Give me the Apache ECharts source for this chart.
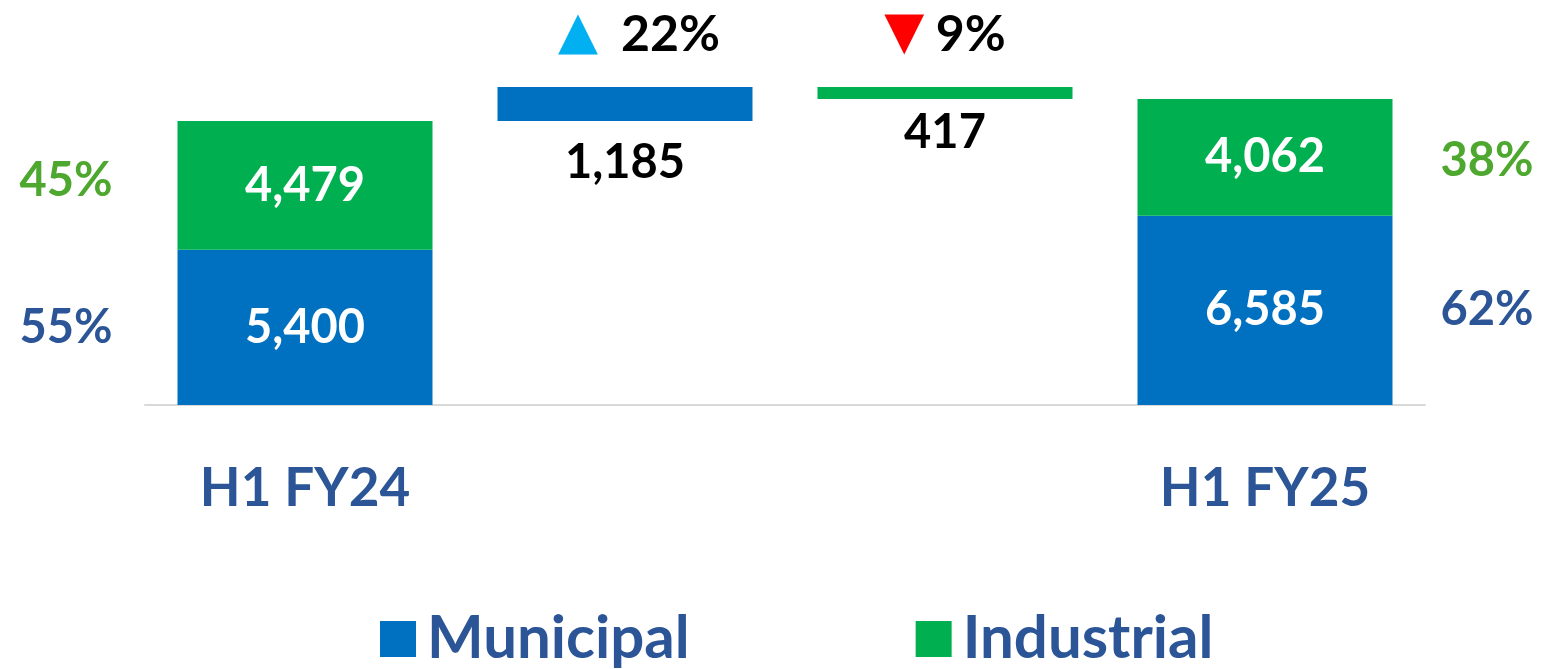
<!DOCTYPE html>
<html>
<head>
<meta charset="utf-8">
<script src="https://cdn.jsdelivr.net/npm/echarts@6/dist/echarts.min.js"></script>
<style>
  html, body { margin: 0; padding: 0; background: #fff; }
  #chart { width: 1542px; height: 669px; }
</style>
</head>
<body>
<div id="chart"></div>
<script>
// data
var categories = ['H1 FY24', 'Municipal change', 'Industrial change', 'H1 FY25'];
var municipalValues = [5400, 6585];   // H1 FY24, H1 FY25
var industrialValues = [4479, 4062];  // H1 FY24, H1 FY25

var BLUE = '#0070C0', GREEN = '#00B050', NAVY = '#2B5597', OLIVE = '#4EA72E';
var FONT = 'Lato';

function fmt(v) { return Math.abs(v).toLocaleString('en-US'); }
function pct(v) { return Math.round(v * 100) + '%'; }

var total24 = municipalValues[0] + industrialValues[0];
var munChange = municipalValues[1] - municipalValues[0];
var indChange = industrialValues[1] - industrialValues[0];

var helper = [null, total24, total24 + munChange + indChange, null];
var municipal = [municipalValues[0], munChange, null, municipalValues[1]];
var industrial = [industrialValues[0], null, -indChange, industrialValues[1]];

var bigLabel = { fontFamily: FONT, fontWeight: 'bold', fontSize: 47 };

var chart = echarts.init(document.getElementById('chart'));

var option = {
  animation: false,
  grid: { left: 145, right: 117, top: 60, bottom: 264 },
  legend: {
    data: ['Municipal', 'Industrial'],
    left: 375,
    top: 604,
    itemWidth: 36,
    itemHeight: 36,
    itemGap: 226,
    icon: 'rect',
    textStyle: { color: NAVY, fontFamily: FONT, fontWeight: 'bold', fontSize: 60, padding: [0, 0, 0, 6] }
  },
  xAxis: {
    type: 'category',
    data: categories,
    axisLine: { lineStyle: { color: '#D9D9D9', width: 2 } },
    axisTick: { show: false },
    axisLabel: {
      margin: 57,
      color: NAVY,
      fontFamily: FONT,
      fontWeight: 'bold',
      fontSize: 53,
      interval: 0,
      formatter: function (v, i) { return (i === 0 || i === 3) ? v : ''; }
    }
  },
  yAxis: { type: 'value', min: 0, max: 12000, show: false },
  series: [
    {
      name: 'helper',
      type: 'bar',
      stack: 'main',
      barWidth: 255,
      barGap: '-100%',
      itemStyle: { color: 'transparent' },
      label: {
        show: true,
        position: 'insideTop',
        color: '#000',
        fontFamily: FONT, fontWeight: 'bold', fontSize: 47,
        formatter: function (p) {
          if (p.dataIndex === 1) return fmt(munChange);
          if (p.dataIndex === 2) return fmt(indChange);
          return '';
        }
      },
      data: helper.map(function (v, i) {
        return { value: v, label: { distance: i === 1 ? 18 : 10 } };
      })
    },
    {
      name: 'Municipal',
      type: 'bar',
      stack: 'main',
      barWidth: 255,
      itemStyle: { color: BLUE },
      label: Object.assign({ show: true, position: 'inside', color: '#fff', formatter: function (p) { return fmt(p.value); } }, bigLabel),
      data: municipal.map(function (v, i) {
        if (i !== 1) return v;
        return {
          value: v,
          label: {
            position: 'top',
            distance: 26,
            offset: [14, 0],
            formatter: '{up|▲}  {t|' + pct(munChange / municipalValues[0]) + '}',
            rich: {
              up: { color: '#00B0F0', fontFamily: 'DejaVu Sans', fontSize: 52 },
              t: { color: '#000', fontFamily: FONT, fontWeight: 'bold', fontSize: 50 }
            }
          }
        };
      })
    },
    {
      name: 'Industrial',
      type: 'bar',
      stack: 'main',
      barWidth: 255,
      itemStyle: { color: GREEN },
      label: Object.assign({ show: true, position: 'inside', color: '#fff', formatter: function (p) { return fmt(p.value); } }, bigLabel),
      data: industrial.map(function (v, i) {
        if (i !== 2) return v;
        return {
          value: v,
          label: {
            position: 'top',
            distance: 26,
            offset: [0, 0],
            formatter: '{dn|▼} {t|' + pct(-indChange / industrialValues[0]) + '}',
            rich: {
              dn: { color: '#FF0000', fontFamily: 'DejaVu Sans', fontSize: 52 },
              t: { color: '#000', fontFamily: FONT, fontWeight: 'bold', fontSize: 50 }
            }
          }
        };
      })
    },
    // transparent overlay carrying the share labels beside the total bars
    {
      name: 'municipalShare',
      type: 'bar',
      stack: 'share',
      barWidth: 255,
      itemStyle: { color: 'transparent' },
      silent: true,
      label: {
        show: true,
        color: NAVY,
        fontFamily: FONT, fontWeight: 'bold', fontSize: 47,
        formatter: function (p) {
          var k = p.dataIndex === 0 ? 0 : 1;
          return pct(municipalValues[k] / (municipalValues[k] + industrialValues[k]));
        }
      },
      data: [
        { value: municipalValues[0], label: { position: 'left', distance: 65 } },
        null, null,
        { value: municipalValues[1], label: { position: 'right', distance: 48 } }
      ]
    },
    {
      name: 'industrialShare',
      type: 'bar',
      stack: 'share',
      barWidth: 255,
      itemStyle: { color: 'transparent' },
      silent: true,
      label: {
        show: true,
        color: OLIVE,
        fontFamily: FONT, fontWeight: 'bold', fontSize: 47,
        formatter: function (p) {
          var k = p.dataIndex === 0 ? 0 : 1;
          return pct(industrialValues[k] / (municipalValues[k] + industrialValues[k]));
        }
      },
      data: [
        { value: industrialValues[0], label: { position: 'left', distance: 65, offset: [0, -5] } },
        null, null,
        { value: industrialValues[1], label: { position: 'right', distance: 48, offset: [0, 4] } }
      ]
    }
  ]
};

chart.setOption(option);
</script>
</body>
</html>
